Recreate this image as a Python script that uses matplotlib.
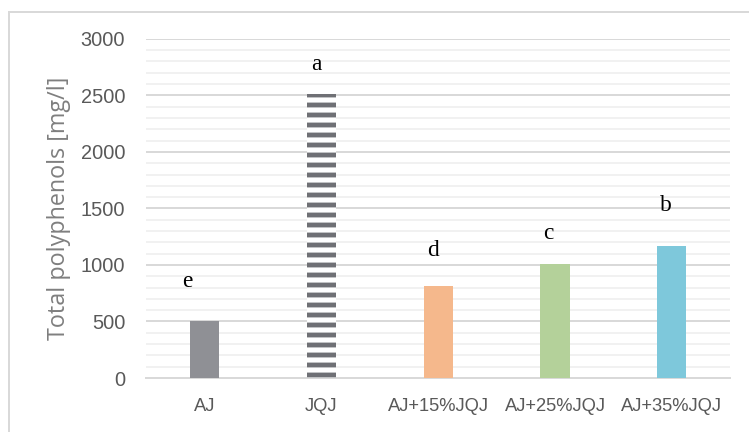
import matplotlib.pyplot as plt
from matplotlib.patches import Rectangle
from matplotlib.ticker import MultipleLocator

# data
categories = ['AJ', 'JQJ', 'AJ+15%JQJ', 'AJ+25%JQJ', 'AJ+35%JQJ']
polyphenols = [500, 2510, 810, 1005, 1170]
letters = ['e', 'a', 'd', 'c', 'b']
letter_pos = [850, 2770, 1130, 1280, 1530]
letter_shift = [-0.15, -0.04, -0.04, -0.06, -0.05]
colors = ['#8f9095', 'white', '#f5b88c', '#b4d19a', '#7ec8db']

plt.rcParams['hatch.linewidth'] = 2.9
plt.rcParams['font.family'] = ['Liberation Sans', 'DejaVu Sans']

fig = plt.figure(figsize=(749 / 120, 432 / 120), dpi=120)
ax = fig.add_axes([0.195, 0.125, 0.78, 0.785])

# light frame around the chart
fig.patches.append(Rectangle((9 / 749, -0.1), 1.2, 1 - 12 / 432 + 0.1,
                             transform=fig.transFigure, fill=False,
                             ec='#d9d9d9', lw=1.2))

x = range(len(categories))
bars = ax.bar(x, polyphenols, width=0.25, color=colors, zorder=3, lw=0)
bars[1].set_hatch('--')
bars[1].set_edgecolor('#6f7075')

for i, (lt, yp) in enumerate(zip(letters, letter_pos)):
    ax.text(i + letter_shift[i], yp, lt, ha='center', va='center',
            fontsize=14, family='Liberation Serif', color='black')

ax.set_xlim(-0.5, 4.5)
ax.set_ylim(0, 3000)
ax.yaxis.set_major_locator(MultipleLocator(500))
ax.yaxis.set_minor_locator(MultipleLocator(100))
ax.grid(axis='y', which='major', color='#d9d9d9', lw=1.2, zorder=0)
ax.grid(axis='y', which='minor', color='#efefef', lw=1.0, zorder=0)
ax.set_axisbelow(True)

for s in ['top', 'right', 'left']:
    ax.spines[s].set_visible(False)
ax.spines['bottom'].set_color('#d9d9d9')
ax.spines['bottom'].set_linewidth(1.2)

ax.set_xticks(list(x))
ax.set_xticklabels(categories)
ax.tick_params(axis='both', which='both', length=0, colors='#595959')
ax.tick_params(axis='x', pad=12, labelsize=11)
ax.tick_params(axis='y', pad=12.5, labelsize=12)
ax.set_ylabel('Total polyphenols [mg/l]', fontsize=14, color='#7f7f7f',
              family=['Open Sans', 'DejaVu Sans'], labelpad=6)

fig.savefig('out.png', dpi=120)
